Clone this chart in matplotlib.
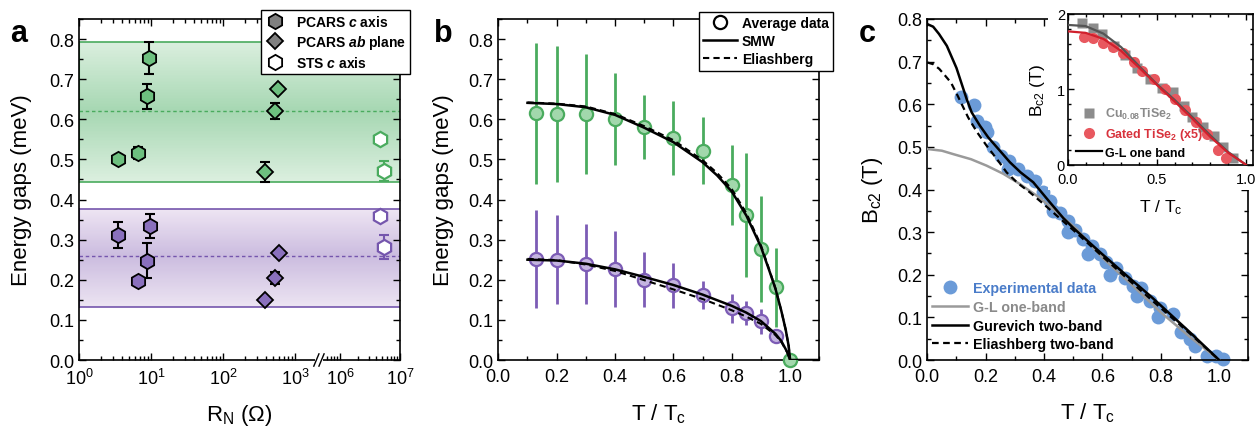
import numpy as np
import matplotlib
matplotlib.use("Agg")
import matplotlib.pyplot as plt
from matplotlib.lines import Line2D
from matplotlib.ticker import FixedLocator, MultipleLocator, FormatStrFormatter, NullFormatter
from matplotlib.patches import Rectangle

plt.rcParams['font.family'] = ['Liberation Sans', 'DejaVu Sans']
plt.rcParams['mathtext.fontset'] = 'custom'
plt.rcParams['mathtext.rm'] = 'Liberation Sans'
plt.rcParams['mathtext.it'] = 'Liberation Sans:italic:bold'
plt.rcParams['mathtext.bf'] = 'Liberation Sans:bold'

# ---------------- data: panel a ----------------
a_pc_x_g = [3.5, 6.5, 8.7, 9.5]
a_pc_y_g = [0.500, 0.515, 0.657, 0.752]
a_pc_e_g = [0.0, 0.015, 0.032, 0.040]
a_pc_x_p = [3.5, 6.5, 8.7, 9.7]
a_pc_y_p = [0.311, 0.196, 0.248, 0.333]
a_pc_e_p = [0.033, 0.0, 0.044, 0.030]
a_ab_x_g = [383, 527, 588]
a_ab_y_g = [0.469, 0.621, 0.675]
a_ab_e_g = [0.025, 0.020, 0.0]
a_ab_x_p = [383, 527, 590]
a_ab_y_p = [0.150, 0.204, 0.267]
a_ab_e_p = [0.0, 0.015, 0.0]
a_sts_x = [4.6e6, 5.5e6]
a_sts_y_g = [0.551, 0.471]
a_sts_e_g = [0.0, 0.025]
a_sts_y_p = [0.360, 0.282]
a_sts_e_p = [0.0, 0.030]
band_g = (0.444, 0.621, 0.793)   # low, mean, high
band_p = (0.133, 0.260, 0.3775)
a_major_ticks = [1, 10, 100, 1000, 1e6, 1e7]
a_major_labels = [r'$10^{0}$', r'$10^{1}$', r'$10^{2}$', r'$10^{3}$', r'$10^{6}$', r'$10^{7}$']

# ---------------- data: panel b ----------------
b_T = [0.13, 0.2, 0.3, 0.4, 0.5, 0.6, 0.7, 0.8, 0.85, 0.9, 0.95]
b_g = [0.615, 0.613, 0.613, 0.600, 0.580, 0.554, 0.522, 0.437, 0.362, 0.277, 0.181]
b_g_err = [0.176, 0.169, 0.150, 0.115, 0.080, 0.092, 0.084, 0.100, 0.155, 0.132, 0.098]
b_p = [0.252, 0.250, 0.240, 0.226, 0.200, 0.186, 0.161, 0.129, 0.117, 0.096, 0.061]
b_p_err = [0.123, 0.111, 0.100, 0.095, 0.068, 0.056, 0.035, 0.036, 0.031, 0.030, 0.0]
b_T_end = [1.0]
b_end = [0.0]
smw_T = [0.1, 0.2, 0.3, 0.4, 0.5, 0.6, 0.7, 0.75, 0.8, 0.85, 0.9, 0.93, 0.95, 0.97, 0.985, 0.995, 1.0, 1.1]
smw_g = [0.641, 0.638, 0.630, 0.611, 0.579, 0.543, 0.493, 0.460, 0.420, 0.360, 0.282, 0.220, 0.177, 0.122, 0.075, 0.035, 0.0, 0.0]
eli_T = [0.1, 0.2, 0.3, 0.4, 0.5, 0.6, 0.7, 0.75, 0.8, 0.85, 0.9, 0.93, 0.95, 0.97, 0.985, 0.995, 1.0]
eli_g = [0.642, 0.639, 0.632, 0.613, 0.583, 0.548, 0.498, 0.466, 0.426, 0.366, 0.286, 0.222, 0.178, 0.122, 0.075, 0.035, 0.0]
smw_Tp = [0.1, 0.2, 0.3, 0.4, 0.5, 0.6, 0.7, 0.8, 0.85, 0.9, 0.95, 0.97, 0.99, 1.0]
smw_p = [0.250, 0.248, 0.240, 0.226, 0.207, 0.187, 0.163, 0.135, 0.118, 0.097, 0.065, 0.047, 0.020, 0.0]
eli_Tp = [0.1, 0.2, 0.3, 0.4, 0.5, 0.6, 0.7, 0.8, 0.85, 0.9, 0.95, 0.97, 0.99, 1.0]
eli_p = [0.252, 0.249, 0.238, 0.222, 0.199, 0.176, 0.152, 0.124, 0.108, 0.090, 0.062, 0.045, 0.019, 0.0]

# ---------------- data: panel c ----------------
c_T = [0.114, 0.161, 0.169, 0.198, 0.204, 0.226, 0.254, 0.277, 0.280, 0.312, 0.340, 0.369, 0.397,
       0.420, 0.432, 0.455, 0.483, 0.483, 0.506, 0.534, 0.552, 0.563, 0.591, 0.614, 0.626, 0.648,
       0.677, 0.705, 0.717, 0.734, 0.763, 0.791, 0.797, 0.843, 0.871, 0.900, 0.917, 0.957, 0.991, 1.014]
c_B = [0.616, 0.598, 0.561, 0.546, 0.534, 0.499, 0.479, 0.448, 0.467, 0.449, 0.432, 0.420, 0.393,
       0.374, 0.350, 0.346, 0.327, 0.300, 0.304, 0.284, 0.249, 0.268, 0.249, 0.229, 0.199, 0.215,
       0.193, 0.174, 0.151, 0.168, 0.139, 0.100, 0.123, 0.108, 0.065, 0.049, 0.034, 0.010, 0.010, 0.003]
gur_T = [0.0, 0.02, 0.04, 0.067, 0.1, 0.135, 0.152, 0.18, 0.209, 0.25, 0.283, 0.32, 0.363, 0.42,
         0.466, 0.5, 0.6, 0.7, 0.763, 0.8, 0.9, 1.0]
gur_B = [0.788, 0.782, 0.765, 0.737, 0.685, 0.612, 0.581, 0.550, 0.522, 0.490, 0.464, 0.440, 0.417,
         0.370, 0.333, 0.310, 0.248, 0.188, 0.151, 0.128, 0.065, 0.0]
eli2_T = [0.0, 0.02, 0.041, 0.06, 0.081, 0.104, 0.14, 0.17, 0.203, 0.24, 0.272, 0.31, 0.352, 0.4,
          0.443, 0.5, 0.6, 0.7, 0.8, 0.9, 1.0]
eli2_B = [0.698, 0.694, 0.683, 0.668, 0.651, 0.620, 0.569, 0.535, 0.503, 0.470, 0.440, 0.415, 0.393,
          0.365, 0.339, 0.305, 0.243, 0.182, 0.122, 0.062, 0.0]
gl_T = [0.0, 0.05, 0.089, 0.15, 0.203, 0.26, 0.317, 0.38, 0.432, 0.512, 0.6, 0.7, 0.8, 0.9, 1.0]
gl_B = [0.495, 0.491, 0.483, 0.471, 0.456, 0.437, 0.413, 0.383, 0.354, 0.307, 0.240, 0.177, 0.112, 0.054, 0.0]

# inset
ins_sq_T = [0.08, 0.14, 0.19, 0.26, 0.32, 0.39, 0.46, 0.53, 0.59, 0.65, 0.70, 0.76, 0.82, 0.87, 0.93]
ins_sq_B = [1.88, 1.82, 1.74, 1.58, 1.45, 1.28, 1.14, 1.02, 0.97, 0.78, 0.63, 0.50, 0.385, 0.24, 0.085]
ins_ci_T = [0.09, 0.14, 0.20, 0.255, 0.31, 0.37, 0.415, 0.485, 0.545, 0.60, 0.657, 0.72, 0.78, 0.845, 0.89]
ins_ci_B = [1.70, 1.68, 1.62, 1.56, 1.48, 1.36, 1.25, 1.14, 1.00, 0.87, 0.72, 0.57, 0.41, 0.19, 0.085]
ins_gl_T = [0.0, 0.1, 0.2, 0.3, 0.4, 0.5, 0.6, 0.7, 0.8, 0.9, 1.0]
ins_gl_grey = [1.855, 1.84, 1.74, 1.56, 1.31, 1.07, 0.86, 0.63, 0.39, 0.17, 0.0]
ins_gl_red = [1.77, 1.75, 1.67, 1.51, 1.29, 1.06, 0.84, 0.61, 0.37, 0.16, 0.0]

# ---------------- colours ----------------
G_FILL = '#6dc07f'; G_LINE = '#4aab5e'
P_FILL = '#8a70bd'; P_LINE = '#7556ad'
G_B_FACE = '#a2d8ac'; P_B_FACE = '#c4b4e0'
BLUE = '#6b9bd8'; BLUE_TXT = '#4a7cc9'

W, H = 1256, 431
fig = plt.figure(figsize=(W / 100, H / 100), dpi=100)

def px_axes(x0, x1, y0, y1):
    return fig.add_axes([x0 / W, 1 - y1 / H, (x1 - x0) / W, (y1 - y0) / H])

TICK_FS = 13
LAB_FS = 16

def style(ax):
    ax.tick_params(which='both', direction='in', top=True, right=True, labelsize=TICK_FS, width=1)
    ax.tick_params(which='major', length=5)
    ax.tick_params(which='minor', length=3)
    for s in ax.spines.values():
        s.set_linewidth(1.2)

# ---------------- panel a ----------------
L1, U2, L2, U6, S = 3.29, 3.375, 5.7, 3.625, 60 / 72

def fwd(x):
    x = np.asarray(x, dtype=float)
    l = np.log10(np.where(x > 0, x, 1e-300))
    return np.where(l <= L1, l, np.where(l >= L2, U6 + (l - 6) * S, L1 + (l - L1) * (U2 - L1) / (L2 - L1)))

def inv(u):
    u = np.asarray(u, dtype=float)
    l = np.where(u <= L1, u, np.where(u >= U2, 6 + (u - U6) / S, L1 + (u - L1) * (L2 - L1) / (U2 - L1)))
    return 10 ** l

axa = px_axes(79, 400, 20, 361)
axa.set_xscale('function', functions=(fwd, inv))
axa.set_xlim(1, 1e7)
axa.set_ylim(0, 0.85)

def mix(c1, c2, f):
    c1 = np.array(matplotlib.colors.to_rgb(c1)); c2 = np.array(matplotlib.colors.to_rgb(c2))
    return tuple(c1 + (c2 - c1) * f)

def band(ax, lo, mid, hi, c_top, c_mid, c_bot, line_c):
    N = 90
    edges = np.linspace(lo, hi, N + 1)
    dy = edges[1] - edges[0]
    for i in range(N):
        y0, y1 = edges[i], edges[i + 1]
        yc = 0.5 * (y0 + y1)
        if yc >= mid:
            c = mix(c_mid, c_top, (yc - mid) / (hi - mid))
        else:
            c = mix(c_mid, c_bot, (mid - yc) / (mid - lo))
        ax.axhspan(y0, min(y1 + 0.8 * dy, hi), color=c, lw=0, zorder=0)
    ax.axhline(hi, color=line_c, lw=1.2, zorder=1)
    ax.axhline(lo, color=line_c, lw=1.2, zorder=1)
    ax.axhline(mid, color=line_c, lw=1.0, ls=(0, (2.5, 2)), zorder=1)
    ax.axvline(1.0, ymin=lo / 0.85, ymax=hi / 0.85, color=line_c, lw=1.5, zorder=1)

band(axa, *band_g, '#dbefdf', '#a6d7b2', '#dcefe0', G_LINE)
band(axa, *band_p, '#eee5f3', '#cbbcdf', '#ece4f2', P_LINE)

def eb(ax, x, y, e, color, cap=3.5, lw=1.5):
    x, y, e = map(np.asarray, (x, y, e))
    m = e > 0
    ax.errorbar(x[m], y[m], yerr=e[m], fmt='none', ecolor=color, elinewidth=lw,
                capsize=cap, capthick=lw, zorder=2)

eb(axa, a_pc_x_g, a_pc_y_g, a_pc_e_g, 'k')
eb(axa, a_pc_x_p, a_pc_y_p, a_pc_e_p, 'k')
eb(axa, a_ab_x_g, a_ab_y_g, a_ab_e_g, 'k')
eb(axa, a_ab_x_p, a_ab_y_p, a_ab_e_p, 'k')
eb(axa, a_sts_x, a_sts_y_g, a_sts_e_g, G_LINE)
eb(axa, a_sts_x, a_sts_y_p, a_sts_e_p, P_LINE)

HEX_MS, DIA_MS = 11, 8.5
mk = dict(ls='none', mew=1.3, zorder=3)
axa.plot(a_pc_x_g, a_pc_y_g, 'h', ms=HEX_MS, mfc=G_FILL, mec='k', **mk)
axa.plot(a_pc_x_p, a_pc_y_p, 'h', ms=HEX_MS, mfc=P_FILL, mec='k', **mk)
axa.plot(a_ab_x_g, a_ab_y_g, 'D', ms=DIA_MS, mfc=G_FILL, mec='k', **mk)
axa.plot(a_ab_x_p, a_ab_y_p, 'D', ms=DIA_MS, mfc=P_FILL, mec='k', **mk)
axa.plot(a_sts_x, a_sts_y_g, 'h', ms=HEX_MS, mfc='white', mec=G_LINE, **{**mk, 'mew': 1.6})
axa.plot(a_sts_x, a_sts_y_p, 'h', ms=HEX_MS, mfc='white', mec=P_LINE, **{**mk, 'mew': 1.6})

style(axa)
axa.xaxis.set_major_locator(FixedLocator(a_major_ticks))
axa.set_xticklabels(a_major_labels)
minors = [k * 10 ** d for d in (0, 1, 2) for k in range(2, 10)] + [6e5, 7e5, 8e5, 9e5] + [k * 1e6 for k in range(2, 10)]
axa.xaxis.set_minor_locator(FixedLocator(minors))
axa.xaxis.set_minor_formatter(NullFormatter())
axa.yaxis.set_major_locator(MultipleLocator(0.1))
axa.yaxis.set_minor_locator(MultipleLocator(0.05))
axa.yaxis.set_major_formatter(FormatStrFormatter('%.1f'))
axa.tick_params(axis='x', pad=6)
axa.set_ylabel('Energy gaps (meV)', fontsize=LAB_FS, va='center')
axa.yaxis.set_label_coords(-0.178, 0.5)
axa.set_xlabel(r'R$_\mathrm{N}$ ($\Omega$)', fontsize=LAB_FS, va='center')
axa.xaxis.set_label_coords(0.5, -0.16)

# axis break marks
ub = 0.5 * (L1 + U2) / fwd(1e7)
axa.add_patch(Rectangle((ub - 0.012, -0.012), 0.024, 0.024, transform=axa.transAxes,
                        fc='white', ec='none', clip_on=False, zorder=10))
for off in (-0.008, 0.008):
    axa.plot([ub + off - 0.008, ub + off + 0.008], [-0.018, 0.018], color='k', lw=1,
             transform=axa.transAxes, clip_on=False, zorder=11)

leg_h = [Line2D([], [], marker='h', ls='none', ms=HEX_MS, mfc='#808080', mec='k', mew=1.3),
         Line2D([], [], marker='D', ls='none', ms=DIA_MS, mfc='#808080', mec='k', mew=1.3),
         Line2D([], [], marker='h', ls='none', ms=HEX_MS, mfc='white', mec='k', mew=1.3)]
la = axa.legend(leg_h, [r'PCARS $c$ axis', r'PCARS $ab$ plane', r'STS $c$ axis'],
                loc='upper right', bbox_to_anchor=(1.031, 1.027), borderaxespad=0,
                prop={'weight': 'bold', 'size': 10}, handlelength=1.5, handletextpad=0.7,
                labelspacing=0.3, borderpad=0.3, fancybox=False, framealpha=1, edgecolor='k')
la.get_frame().set_linewidth(1.0)
la.set_zorder(20)

# ---------------- panel b ----------------
axb = px_axes(498.3, 819.3, 20, 361)
axb.set_xlim(0, 1.1)
axb.set_ylim(0, 0.85)
axb.errorbar(b_T, b_g, yerr=b_g_err, fmt='none', ecolor=G_LINE, elinewidth=2, zorder=2)
eb(axb, b_T, b_p, b_p_err, '#7c5cb5', cap=0, lw=2)
axb.plot(b_T, b_g, 'o', ms=9.5, mfc=G_B_FACE, mec=G_LINE, mew=1.6, ls='none', zorder=3)
axb.plot(b_T, b_p, 'o', ms=9.5, mfc=P_B_FACE, mec='#7c5cb5', mew=1.6, ls='none', zorder=3)
axb.plot(b_T_end, b_end, 'o', ms=9.5, mfc=G_B_FACE, mec=G_LINE, mew=1.6, ls='none', zorder=3, clip_on=False)
axb.plot(smw_T, smw_g, '-', color='k', lw=1.8, zorder=4)
axb.plot(eli_T, eli_g, '--', color='k', lw=1.5, dashes=(3, 2), zorder=4)
axb.plot(smw_Tp, smw_p, '-', color='k', lw=1.8, zorder=4)
axb.plot(eli_Tp, eli_p, '--', color='k', lw=1.5, dashes=(3, 2), zorder=4)
style(axb)
axb.xaxis.set_major_locator(MultipleLocator(0.2))
axb.xaxis.set_minor_locator(MultipleLocator(0.1))
axb.xaxis.set_major_formatter(FormatStrFormatter('%.1f'))
axb.yaxis.set_major_locator(MultipleLocator(0.1))
axb.yaxis.set_minor_locator(MultipleLocator(0.05))
axb.yaxis.set_major_formatter(FormatStrFormatter('%.1f'))
axb.tick_params(axis='x', pad=6)
axb.set_ylabel('Energy gaps (meV)', fontsize=LAB_FS, va='center')
axb.yaxis.set_label_coords(-0.172, 0.5)
axb.set_xlabel(r'T / T$_\mathrm{c}$', fontsize=LAB_FS, va='center')
axb.xaxis.set_label_coords(0.5, -0.155)
hb = [Line2D([], [], marker='o', ls='none', ms=9.5, mfc='white', mec='k', mew=1.6),
      Line2D([], [], color='k', lw=1.8),
      Line2D([], [], color='k', lw=1.5, ls='--', dashes=(3, 2))]
lb = axb.legend(hb, ['Average data', 'SMW', 'Eliashberg'], loc='upper right',
                bbox_to_anchor=(1.043, 1.021), borderaxespad=0, prop={'weight': 'bold', 'size': 10},
                handlelength=2.4, handletextpad=0.4, labelspacing=0.3, borderpad=0.3,
                fancybox=False, framealpha=1, edgecolor='k')
lb.get_frame().set_linewidth(1.0)
lb.set_zorder(20)

# ---------------- panel c ----------------
axc = px_axes(927.3, 1248.3, 20, 361)
axc.set_xlim(0, 1.1)
axc.set_ylim(0, 0.8)
axc.plot(c_T, c_B, 'o', ms=10, color=BLUE, mec='none', ls='none', zorder=2, clip_on=False)
axc.plot(gl_T, gl_B, '-', color='#9a9a9a', lw=1.8, zorder=3)
axc.plot(eli2_T, eli2_B, '--', color='k', lw=1.6, dashes=(3, 2), zorder=3)
axc.plot(gur_T, gur_B, '-', color='k', lw=1.8, zorder=4)
style(axc)
axc.xaxis.set_major_locator(MultipleLocator(0.2))
axc.xaxis.set_minor_locator(MultipleLocator(0.1))
axc.xaxis.set_major_formatter(FormatStrFormatter('%.1f'))
axc.yaxis.set_major_locator(MultipleLocator(0.1))
axc.yaxis.set_minor_locator(MultipleLocator(0.05))
axc.yaxis.set_major_formatter(FormatStrFormatter('%.1f'))
axc.tick_params(axis='x', pad=6)
axc.set_ylabel(r'B$_\mathrm{c2}$ (T)', fontsize=LAB_FS, va='center')
axc.yaxis.set_label_coords(-0.172, 0.5)
axc.set_xlabel(r'T / T$_\mathrm{c}$', fontsize=LAB_FS, va='center')
axc.xaxis.set_label_coords(0.5, -0.152)
hc = [Line2D([], [], marker='o', ls='none', ms=10, color=BLUE, mec='none'),
      Line2D([], [], color='#9a9a9a', lw=1.8),
      Line2D([], [], color='k', lw=1.8),
      Line2D([], [], color='k', lw=1.6, ls='--', dashes=(3, 2))]
lc = axc.legend(hc, ['Experimental data', 'G-L one-band', 'Gurevich two-band', 'Eliashberg two-band'],
                loc='lower left', bbox_to_anchor=(0.015, 0.025), borderaxespad=0, borderpad=0,
                prop={'weight': 'bold', 'size': 10.3}, handlelength=2.5, handletextpad=0.35,
                labelspacing=0.33, frameon=False)
for t, c in zip(lc.get_texts(), [BLUE_TXT, '#8a8a8a', 'k', 'k']):
    t.set_color(c)

# ---------------- inset ----------------
axi = px_axes(1067.7, 1253, 15, 165.7)
axi.add_patch(Rectangle((-0.106, -0.165), 1.13, 1.27, transform=axi.transAxes,
                        fc='white', ec='none', clip_on=False, zorder=-5))
axi.set_xlim(0, 1.04)
axi.set_ylim(0, 2)
axi.plot(ins_sq_T, ins_sq_B, 's', ms=7, color='#8c8c8c', mec='none', ls='none', zorder=2)
axi.plot(ins_ci_T, ins_ci_B, 'o', ms=8, color='#e8585f', mec='none', ls='none', zorder=2)
axi.plot(ins_gl_T, ins_gl_grey, '-', color='#555555', lw=1.6, zorder=3)
axi.plot(ins_gl_T, ins_gl_red, '-', color='#d0202c', lw=1.6, zorder=3)
axi.tick_params(which='both', direction='in', top=True, right=True, labelsize=10.5, width=1, pad=2)
axi.tick_params(axis='x', pad=5)
axi.tick_params(which='major', length=4)
axi.tick_params(which='minor', length=2.5)
for s in axi.spines.values():
    s.set_linewidth(1.2)
axi.xaxis.set_major_locator(FixedLocator([0, 0.5, 1.0]))
axi.set_xticklabels(['0.0', '0.5', '1.0'])
axi.xaxis.set_minor_locator(MultipleLocator(0.1))
axi.yaxis.set_major_locator(FixedLocator([0, 1, 2]))
axi.set_yticklabels(['0', '1', '2'])
axi.yaxis.set_minor_locator(MultipleLocator(0.2))
axi.set_ylabel(r'B$_\mathrm{c2}$ (T)', fontsize=12.5, va='center')
axi.yaxis.set_label_coords(-0.165, 0.5)
axi.set_xlabel(r'T / T$_\mathrm{c}$', fontsize=12.5, va='center')
axi.xaxis.set_label_coords(0.5, -0.28)
hi = [Line2D([], [], marker='s', ls='none', ms=7, color='#8c8c8c', mec='none'),
      Line2D([], [], marker='o', ls='none', ms=8, color='#e8585f', mec='none'),
      Line2D([], [], color='k', lw=1.6)]
li = axi.legend(hi, [r'Cu$_{\mathbf{0.08}}$TiSe$_{\mathbf{2}}$', r'Gated TiSe$_{\mathbf{2}}$ (x5)', 'G-L one band'],
                loc='lower left', bbox_to_anchor=(0.045, 0.04), borderaxespad=0, borderpad=0,
                prop={'weight': 'bold', 'size': 9}, handlelength=2.1, handletextpad=0.25,
                labelspacing=0.38, frameon=False)
for t, c in zip(li.get_texts(), ['#8a8a8a', '#d8323c', 'k']):
    t.set_color(c)

# panel letters
for x, l in ((10, 'a'), (434, 'b'), (859, 'c')):
    fig.text(x / W, 1 - 42 / H, l, fontsize=22, fontweight='bold', va='baseline')

fig.savefig('out.png', dpi=100)
